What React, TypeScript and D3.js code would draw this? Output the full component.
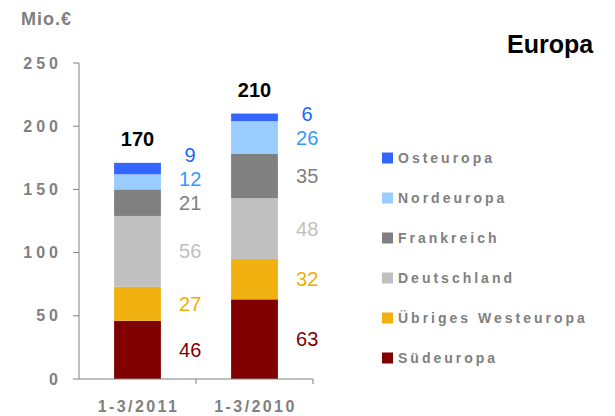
import React from "react";
import * as d3 from "d3";

const categories = ["1-3/2011", "1-3/2010"];
const seriesNames = ["Südeuropa", "Übriges Westeuropa", "Deutschland", "Frankreich", "Nordeuropa", "Osteuropa"];
const sued = [46, 63];
const uebrige = [27, 32];
const deutschland = [56, 48];
const frankreich = [21, 35];
const nord = [12, 26];
const ost = [9, 6];
const totals = [170, 210];
const yTicks = [0, 50, 100, 150, 200, 250];

const barColors = ["#800000", "#F0B010", "#C0C0C0", "#808080", "#99CCFF", "#3366FF"];
const labelColors = ["#800000", "#F0B000", "#C0C0C0", "#808080", "#3399FF", "#1A66FF"];

const FONT = "'Liberation Sans', Arial, sans-serif";
const GRAY = "#808080";

export default function App() {
  const W = 615, H = 416;
  const x0 = 79, x1 = 313, yBottom = 379, yTop = 63;
  const x = d3.scaleBand<string>().domain(categories).range([x0, x1]).paddingInner(0.6).paddingOuter(0.3);
  const y = d3.scaleLinear().domain([0, 250]).range([yBottom, yTop]);

  const seriesValues = [sued, uebrige, deutschland, frankreich, nord, ost];
  const table = categories.map((c, i) => {
    const row: any = { cat: c };
    seriesNames.forEach((s, j) => (row[s] = seriesValues[j][i]));
    return row;
  });
  const stacked = d3.stack<any>().keys(seriesNames)(table);

  const step = x.step();
  const bw = x.bandwidth();

  // label positions with simple upward collision avoidance
  const labelY: number[][] = categories.map((_, ci) => {
    const ys: number[] = [];
    stacked.forEach((layer, si) => {
      const d = layer[ci];
      const c = y((d[0] + d[1]) / 2);
      ys.push(si === 0 ? c : Math.min(c, ys[si - 1] - 24));
    });
    return ys;
  });

  const legendOrder = seriesNames.map((_, i) => i).reverse();

  return (
    <svg width={W} height={H} style={{ position: "absolute", left: 0, top: 0, background: "#fff" }} fontFamily={FONT}>
      <text x={21} y={25} fontSize={18} fontWeight="bold" fill={GRAY} letterSpacing={1}>Mio.€</text>
      <text x={507} y={53} fontSize={25} fontWeight="bold" fill="#000">Europa</text>

      {/* bars */}
      {stacked.map((layer, si) =>
        layer.map((d, ci) => (
          <rect key={`${si}-${ci}`} x={x(categories[ci])} y={y(d[1])} width={bw} height={y(d[0]) - y(d[1])} fill={barColors[si]} />
        ))
      )}

      {/* value labels */}
      {stacked.map((layer, si) =>
        layer.map((d, ci) => (
          <text key={`l-${si}-${ci}`} x={(x(categories[ci]) as number) + bw / 2 + step * 0.45} y={labelY[ci][si]}
            fontSize={20} fill={labelColors[si]} textAnchor="middle" dominantBaseline="central">
            {d[1] - d[0]}
          </text>
        ))
      )}

      {/* totals */}
      {categories.map((c, ci) => (
        <text key={`t-${ci}`} x={(x(c) as number) + bw / 2} y={y(stacked[stacked.length - 1][ci][1]) - 24}
          fontSize={20} fontWeight="bold" fill="#000" textAnchor="middle" dominantBaseline="central">
          {totals[ci]}
        </text>
      ))}

      {/* axes */}
      <line x1={x0} x2={x0} y1={yTop} y2={yBottom} stroke={GRAY} strokeWidth={1} />
      <line x1={x0} x2={x1} y1={yBottom} y2={yBottom} stroke={GRAY} strokeWidth={1} />
      {yTicks.map((t) => (
        <g key={`yt-${t}`}>
          <line x1={x0 - 6} x2={x0} y1={y(t)} y2={y(t)} stroke={GRAY} />
          <text x={62} y={y(t)} fontSize={16} fontWeight="bold" fill={GRAY} textAnchor="end" dominantBaseline="central" letterSpacing={4}>
            {t}
          </text>
        </g>
      ))}
      {categories.map((c, ci) => (
        <line key={`xt-${ci}`} x1={x0 + step * (ci + 1)} x2={x0 + step * (ci + 1)} y1={yBottom} y2={yBottom + 5} stroke={GRAY} />
      ))}
      {categories.map((c, ci) => (
        <text key={`xl-${ci}`} x={(x(c) as number) + bw / 2 + 1} y={406} fontSize={16} fontWeight="bold" fill={GRAY}
          textAnchor="middle" dominantBaseline="central" letterSpacing={2.4}>
          {c}
        </text>
      ))}

      {/* legend */}
      {legendOrder.map((si, k) => (
        <g key={`lg-${si}`} transform={`translate(382, ${158 + 40 * k})`}>
          <rect x={0} y={-5.5} width={11} height={11} fill={barColors[si]} />
          <text x={16} y={0} fontSize={14} fontWeight="bold" fill={GRAY} dominantBaseline="central" letterSpacing={3}>
            {seriesNames[si]}
          </text>
        </g>
      ))}
    </svg>
  );
}
